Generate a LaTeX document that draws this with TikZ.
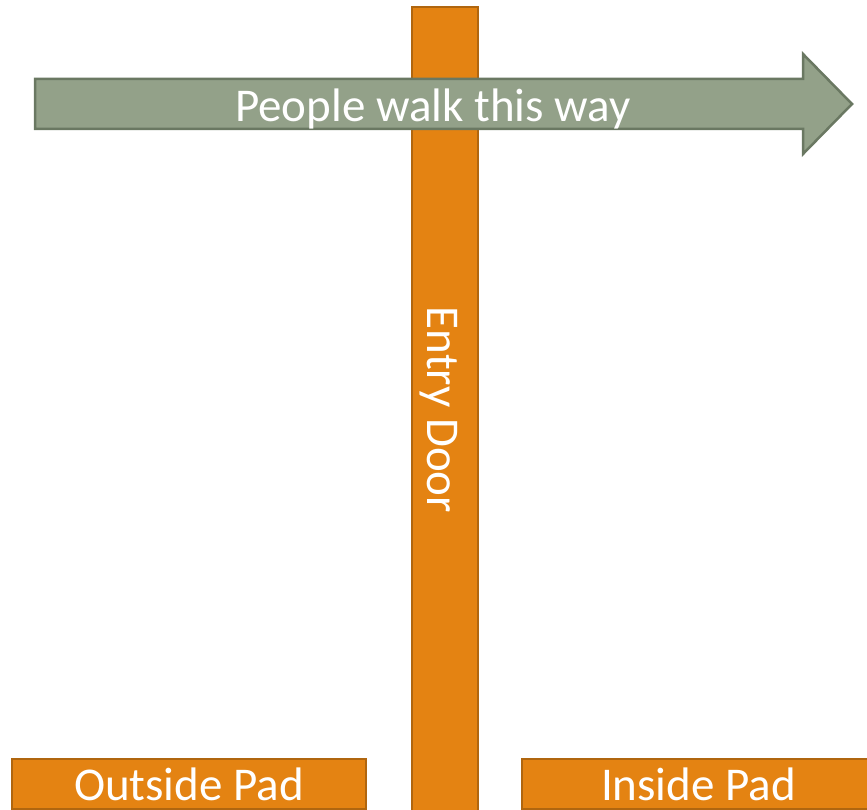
\documentclass[tikz,border=0pt]{standalone}
\usepackage{fontspec}
\setmainfont{Carlito}
\usetikzlibrary{positioning, calc}
\definecolor{padorange}{HTML}{E48312}
\definecolor{padedge}{HTML}{B0660F}
\definecolor{walkgreen}{HTML}{93A189}
\definecolor{walkedge}{HTML}{6A7862}

\begin{document}
\begin{tikzpicture}[x=1pt, y=1pt,
    block/.style={draw=padedge, line width=2pt, fill=padorange, inner sep=0pt},
    bigtext/.style={text=white, font=\fontsize{47}{56}\selectfont}]
        \useasboundingbox (0,0) rectangle (867,809);
        \node[block, anchor=south west, minimum width=66pt, minimum height=811pt] (door) at (411,-10) {};
        \node[bigtext, rotate=-90, anchor=base] (doorlabel) at (427,399) {Entry Door};
        \draw[line width=2.5pt, walkedge, fill=walkgreen] (35,680) -- (803,680) -- (803,655) -- (852,705)
            -- (803,755) -- (803,730) -- (35,730) -- cycle;
        \node[bigtext, anchor=base] (walklabel) at (433,687) {People walk this way};
        \node[block, bigtext, anchor=south west, minimum width=354pt, minimum height=50pt] (outside) at (11,-1) {Outside Pad};
        \node[block, bigtext, anchor=south west, minimum width=353pt, minimum height=50pt] (inside) at (521,-1) {Inside Pad};
      \end{tikzpicture}
\end{document}
